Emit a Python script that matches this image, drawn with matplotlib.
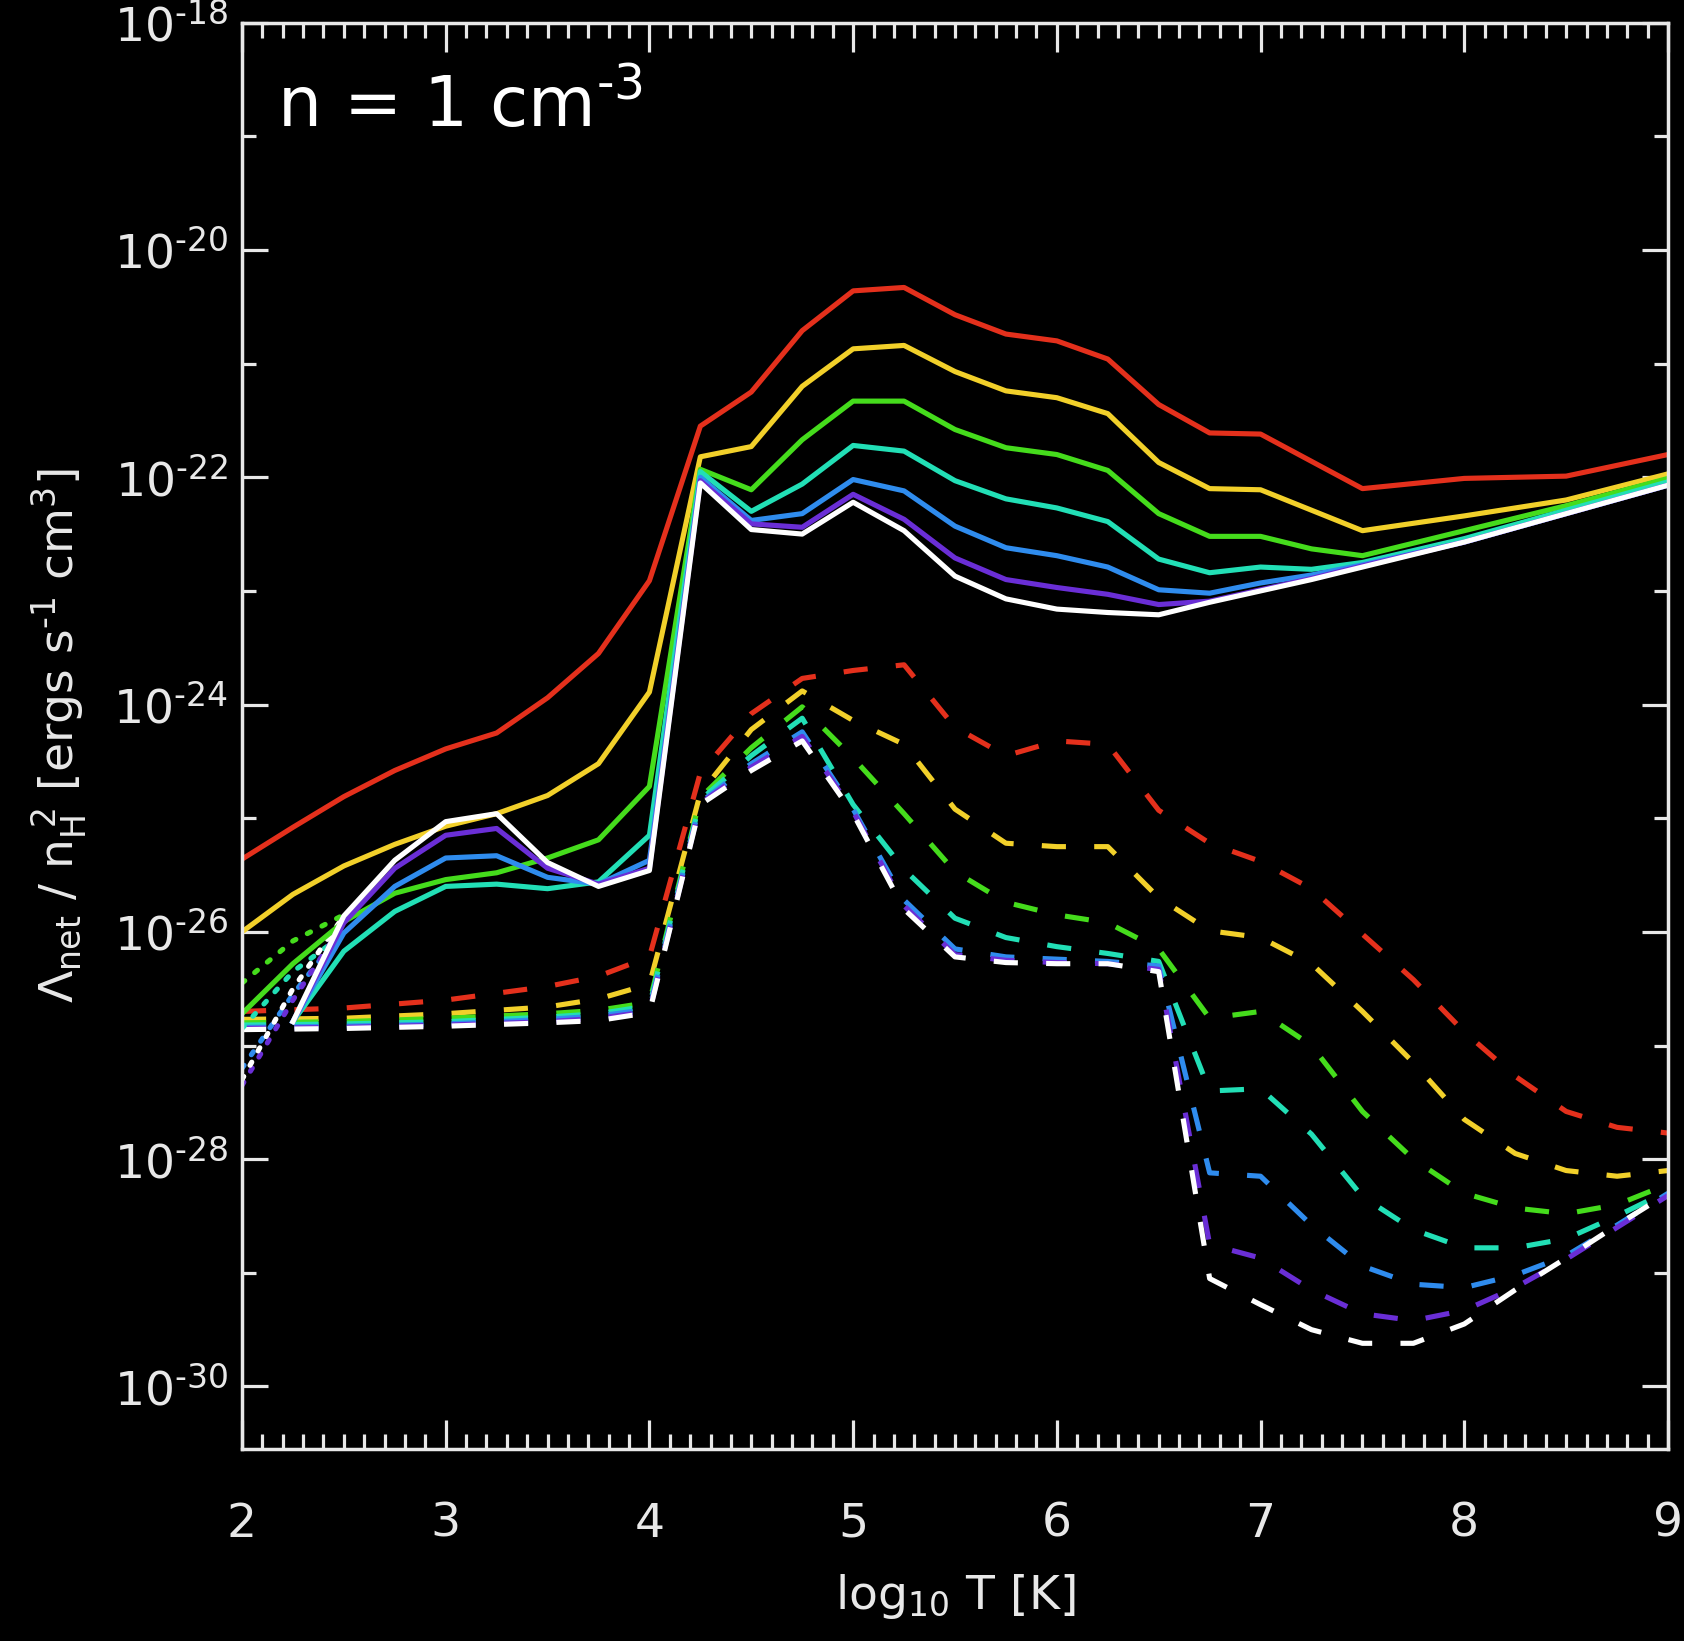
import numpy as np
import matplotlib.pyplot as plt
from matplotlib.ticker import FixedLocator, FuncFormatter, NullFormatter

nan = np.nan

# model colours, highest curve first
colors = ["#e4301c", "#f2d02a", "#45dc1c", "#22dfb6", "#2f8cee", "#6a2ed6", "#ffffff"]

# solid curves (net cooling), log10 of Lambda/nH^2
logT_solid = [2.0, 2.25, 2.5, 2.75, 3.0, 3.25, 3.5, 3.75, 4.0, 4.25, 4.5, 4.75, 5.0,
              5.25, 5.5, 5.75, 6.0, 6.25, 6.5, 6.75, 7.0, 7.25, 7.5, 8.0, 8.5, 9.0]
red_solid = [-25.36, -25.08, -24.81, -24.58, -24.39, -24.25, -23.94, -23.55, -22.91, -21.55,
             -21.25, -20.71, -20.36, -20.33, -20.57, -20.74, -20.80, -20.96, -21.36, -21.61,
             -21.62, -21.86, -22.10, -22.01, -21.99, -21.80]
yellow_solid = [-26.00, -25.67, -25.42, -25.23, -25.07, -24.96, -24.80, -24.52, -23.89, -21.82,
                -21.73, -21.20, -20.87, -20.84, -21.07, -21.24, -21.30, -21.44, -21.87, -22.10,
                -22.11, -22.29, -22.47, -22.34, -22.20, -21.97]
green_solid = [-26.72, -26.28, -25.91, -25.66, -25.54, -25.48, -25.35, -25.19, -24.72, -21.93,
               -22.11, -21.67, -21.33, -21.33, -21.58, -21.74, -21.80, -21.94, -22.32, -22.52,
               -22.52, -22.63, -22.69, -22.47, -22.25, -22.01]
teal_solid = [nan, -26.79, -26.17, -25.82, -25.60, -25.58, -25.62, -25.56, -25.15, -21.95,
              -22.30, -22.06, -21.72, -21.77, -22.03, -22.19, -22.27, -22.39, -22.72, -22.84,
              -22.79, -22.81, -22.75, -22.54, -22.29, -22.04]
blue_solid = [nan, -26.79, -26.01, -25.60, -25.35, -25.33, -25.52, -25.58, -25.37, -22.00,
              -22.38, -22.32, -22.02, -22.12, -22.43, -22.62, -22.69, -22.79, -22.99, -23.02,
              -22.93, -22.86, -22.77, -22.57, -22.32, -22.07]
purple_solid = [nan, -26.79, -25.92, -25.44, -25.15, -25.09, -25.44, -25.58, -25.44, -22.03,
                -22.41, -22.44, -22.15, -22.37, -22.71, -22.90, -22.97, -23.03, -23.12, -23.09,
                -22.99, -22.89, -22.78, -22.57, -22.32, -22.07]
white_solid = [nan, -26.79, -25.86, -25.37, -25.03, -24.96, -25.39, -25.60, -25.46, -22.05,
               -22.46, -22.50, -22.22, -22.47, -22.87, -23.07, -23.16, -23.19, -23.21, -23.10,
               -23.00, -22.90, -22.79, -22.57, -22.32, -22.07]

# dotted low-temperature branches
logT_dot = [2.0, 2.25, 2.5]
green_dot = [-26.45, -26.08, -25.85]
teal_dot = [-26.85, -26.35, -26.02]
blue_dot = [-27.20, -26.55, -25.98]
purple_dot = [-27.35, -26.60, -25.92]
white_dot = [-27.30, -26.50, -25.86]

# dashed curves
logT_dash = [2.0, 2.5, 3.0, 3.5, 3.75, 4.0, 4.25, 4.5, 4.75, 5.0, 5.25, 5.5, 5.75,
             6.0, 6.25, 6.5, 6.75, 7.0, 7.25, 7.5, 7.75, 8.0, 8.25, 8.5, 8.75, 9.0]
red_dash = [-26.70, -26.67, -26.60, -26.48, -26.39, -26.22, -24.60, -24.08, -23.77, -23.70,
            -23.65, -24.20, -24.45, -24.32, -24.35, -24.93, -25.22, -25.38, -25.62, -26.02,
            -26.42, -26.88, -27.27, -27.58, -27.72, -27.77]
yellow_dash = [-26.77, -26.76, -26.72, -26.66, -26.59, -26.46, -24.78, -24.22, -23.88, -24.14,
               -24.35, -24.92, -25.22, -25.25, -25.25, -25.70, -25.99, -26.05, -26.28, -26.70,
               -27.15, -27.65, -27.95, -28.10, -28.15, -28.10]
green_dash = [-26.80, -26.79, -26.76, -26.72, -26.69, -26.62, -24.82, -24.38, -24.02, -24.47,
              -24.96, -25.47, -25.74, -25.85, -25.92, -26.15, -26.76, -26.70, -27.00, -27.58,
              -28.00, -28.30, -28.43, -28.48, -28.40, -28.22]
teal_dash = [-26.82, -26.81, -26.79, -26.75, -26.72, -26.65, -24.84, -24.45, -24.12, -24.88,
             -25.45, -25.88, -26.05, -26.13, -26.19, -26.26, -27.40, -27.38, -27.78, -28.33,
             -28.62, -28.78, -28.78, -28.70, -28.50, -28.28]
blue_dash = [-26.84, -26.83, -26.81, -26.77, -26.74, -26.68, -24.86, -24.52, -24.24, -24.92,
             -25.72, -26.15, -26.22, -26.24, -26.26, -26.30, -28.12, -28.15, -28.58, -28.94,
             -29.10, -29.13, -29.02, -28.85, -28.58, -28.30]
purple_dash = [-26.85, -26.84, -26.82, -26.79, -26.76, -26.70, -24.87, -24.55, -24.28, -24.94,
               -25.77, -26.20, -26.25, -26.27, -26.28, -26.33, -28.75, -28.87, -29.15, -29.36,
               -29.42, -29.33, -29.13, -28.88, -28.60, -28.32]
white_dash = [-26.86, -26.85, -26.83, -26.80, -26.78, -26.71, -24.88, -24.58, -24.32, -24.96,
              -25.80, -26.22, -26.27, -26.28, -26.28, -26.35, -29.05, -29.28, -29.50, -29.62,
              -29.62, -29.45, -29.15, -28.87, -28.58, -28.30]

solids = [red_solid, yellow_solid, green_solid, teal_solid, blue_solid, purple_solid, white_solid]
dashes = [red_dash, yellow_dash, green_dash, teal_dash, blue_dash, purple_dash, white_dash]
dots = [None, None, green_dot, teal_dot, blue_dot, purple_dot, white_dot]

fg = "#e8e8e8"
plt.rcParams["font.family"] = "DejaVu Sans"

fig = plt.figure(figsize=(16.84, 16.41), dpi=100, facecolor="black")
ax = fig.add_axes([0.1437, 0.117, 0.8468, 0.8692])
ax.set_facecolor("black")

lw = 3.7
for c, ys in zip(colors, dashes):
    ax.plot(logT_dash, 10.0 ** np.array(ys), color=c, lw=lw, ls=(0, (4.7, 5.5)))
for c, ys in zip(colors, dots):
    if ys is not None:
        ax.plot(logT_dot, 10.0 ** np.array(ys), color=c, lw=lw, ls=(0, (0.7, 2.5)),
                dash_capstyle="round")
for c, ys in zip(colors, solids):
    ax.plot(logT_solid, 10.0 ** np.array(ys), color=c, lw=lw)

ax.set_yscale("log")
ax.set_xlim(2, 9)
ax.set_ylim(10 ** -30.55, 1e-18)

ax.xaxis.set_major_locator(FixedLocator(range(2, 10)))
ax.xaxis.set_minor_locator(FixedLocator(np.arange(20, 91) / 10.0))
ax.yaxis.set_major_locator(FixedLocator([10.0 ** e for e in range(-30, -17, 2)]))
ax.yaxis.set_minor_locator(FixedLocator([10.0 ** e for e in range(-29, -18, 2)]))
ax.yaxis.set_major_formatter(
    FuncFormatter(lambda v, p: r"$10^{\text{-}%d}$" % abs(round(np.log10(v)))))
ax.yaxis.set_minor_formatter(NullFormatter())

for s in ax.spines.values():
    s.set_color(fg)
    s.set_linewidth(2.5)

ax.tick_params(which="both", direction="in", color=fg, width=2.3,
               top=True, right=True, labelcolor=fg)
ax.tick_params(axis="x", which="major", length=21, pad=38, labelsize=34)
ax.tick_params(axis="x", which="minor", length=10.5)
ax.tick_params(axis="y", which="major", length=19, pad=10, labelsize=34)
ax.tick_params(axis="y", which="minor", length=10)

ax.set_xlabel(r"log$_{10}$ T [K]", color=fg, fontsize=34)
ax.xaxis.set_label_coords(0.5, -0.086)
ax.set_ylabel(r"$\Lambda_{\rm net}$ / n$_{\rm H}^{\ 2}$ [ergs s$^{\text{-}1}$ cm$^{3}$]",
              color=fg, fontsize=34)
ax.yaxis.label.set_va("center")
ax.yaxis.set_label_coords(-0.128, 0.5)

ax.text(0.0245, 0.927, r"n = 1 cm$^{\text{-}3}$", transform=ax.transAxes, color="white",
        fontsize=50, ha="left", va="baseline")

fig.savefig("out.png", dpi=100, facecolor="black")
